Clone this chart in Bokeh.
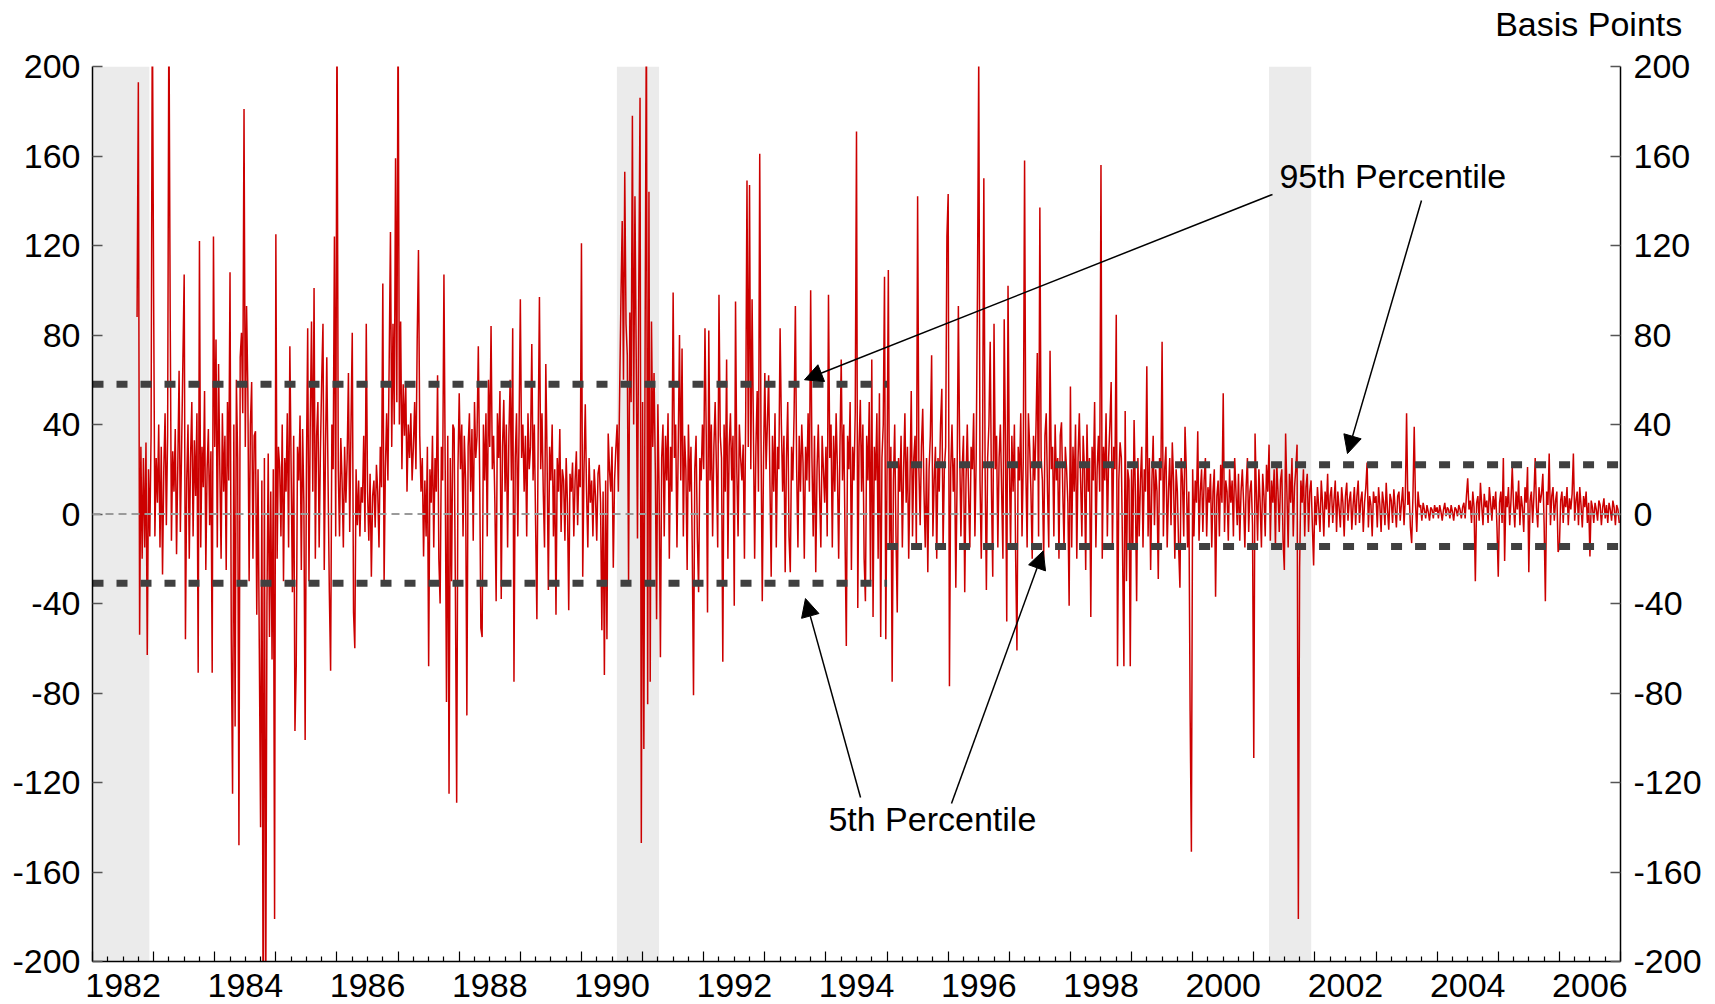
from bokeh.plotting import figure
from bokeh.models import (Range1d, LinearAxis, FixedTicker, BoxAnnotation, Span,
                          Label, Arrow, NormalHead)
from bokeh.embed import file_html
from bokeh.resources import INLINE

# ---------------- data (basis points, roughly weekly samples) -------------
v1982 = [88, 193, -54, 30, -20, 25, -15, 32, -63, 20, -10, 35, 230]
v1983 = [98, -10, 25, 5, 40, -15, 30, -27, 20, 45, -5, 35, 230, 91, -12, 28, 10, 38, -18, 22,
         64, -8, 30, 69, 107, -56, 15, 40, -20, 25, 50, -10, 33, 8, 45, -71, 122, -15, 30, 12,
         55, -25, 20, 38, -5, 28, -71, 124]
v1984 = [30, 78, -15, 67, 20, -20, 45, 10, 35, -25, 50, 15, 108, -56, -125, 40, -95, 60, 25, -148,
         70, 81, 45, 181, 30, 93, 55, -30, 40, 59, -20, 35, 37, -45, 20, -60, -140, 15, -230, 25,
         -230, -40, 27, -55, 10, -65, 20, -181]
v1985 = [125, -20, 30, 21, -10, 40, -30, 25, 10, 45, -15, 75, 20, -35, 35, -97, -68, 30, 15, 44,
         -25, 38, 5, -101, 20, 83, -30, 40, 86, 10, 101, -20, 35, 50, -15, 28, 60, 85, -25, 30,
         70, 15, -35, -70, 40, 20, 124, -10]
v1986 = [230, 20, -10, 34, 15, -15, 30, 5, 25, 63, -8, 40, 81, -44, -60, 20, -5, 15, -10, 12,
         5, 35, -8, 85, 10, -12, 18, -28, 8, 15, -6, 22, 10, -15, 30, 12, 103, -31, 20, 45,
         15, 68, 126, 30, 85, 40, 159, 50]
v1987 = [230, 40, 86, 20, 58, 35, 59, 10, 40, 25, 45, 15, 30, 50, 20, 78, 118, 35, 10, 25,
         -19, 15, -10, 30, -68, 20, 5, 35, -15, 25, 10, 62, -20, -40, 30, 15, 107, 20, -84, 35,
         -125, 25, -30, 40, 38, -35, -129, 20]
v1988 = [54, 20, 40, -10, 35, 15, -90, 30, 45, 10, 38, -12, 50, 25, 35, 75, 20, -51, -55, 40,
         15, 45, -10, 60, 30, 84, 20, 35, 5, -39, 45, 25, 55, -38, 30, 51, 10, 40, -15, 35,
         60, 15, 83, -75, 25, 45, -10, 38]
v1989 = [96, 25, 40, 10, 35, -10, 45, 20, 30, 76, 15, 40, -5, -47, 35, 97, 20, 45, 10, -15,
         67, 25, -34, 30, 15, 40, -10, 20, -45, 25, 10, 38, -8, 20, 15, -12, 25, 5, -43, 18,
         10, 23, -10, 15, 28, -5, 20, 12]
v1990 = [121, -28, 20, 49, 10, -15, 25, 5, 15, -10, 20, 8, -12, 18, 22, 5, -52, 10, -72, 15,
         -56, 36, 20, 10, 30, -24, 15, 29, 40, 10, 55, 96, 131, 60, 153, 85, 71, -30, 90, 50,
         178, 40, 142, 70, -11, 100, 186, -147]
v1991 = [50, -105, 80, 230, -85, 144, -75, 86, 30, 63, 20, -47, 49, 10, -64, 25, 40, -10, 35, 15,
         45, -20, 30, 10, 99, 25, 40, -15, 30, 80, 15, 74, -10, 35, 20, -25, 40, 10, 30, -15,
         -81, 20, 35, -10, -35, 25, 15, 40]
v1992 = [20, 83, 35, -44, 82, 15, 40, -10, 30, 50, 20, -15, 98, 35, 25, -66, 40, 10, 69, -20,
         30, 45, 15, 35, -41, 95, 20, -10, 40, 25, 15, 31, -20, 45, 149, 30, 147, 20, 96, 40,
         -20, 30, 55, 10, 161, 35, -39, 25]
v1993 = [63, 20, 40, 62, 15, -28, 35, 10, 45, -15, 30, 20, 83, 40, 10, 35, -26, 25, 50, -10,
         -26, 30, 15, 45, 93, 20, -15, 35, 10, 40, 23, -20, 30, 15, 45, 10, 100, 25, -10, 35,
         -26, 20, 40, 10, -15, 35, 20, 5]
v1994 = [30, -10, 98, 25, 40, -15, 35, 10, 45, 20, -20, 30, 69, 15, 40, -10, -59, 35, 20, 50,
         -25, 30, 15, 45, 171, -42, 30, 51, 10, 40, -20, -39, 35, 15, 50, -30, 69, -46, 30, 15,
         45, -20, 54, -55, 25, 40, 106, -56]
v1995 = [20, 109, -15, 30, -75, 15, 40, -10, -44, 25, 10, 35, -15, 20, 45, 5, 30, -20, 15, 55,
         -10, 25, 35, -15, 142, 20, -5, 30, 47, 10, -15, 25, -26, 20, 35, 71, -10, 15, 30, -20,
         25, 10, 40, 56, -15, 20, 30, 124]
v1996 = [143, -77, 20, 40, 10, 25, -33, 15, 93, 30, -10, 20, 35, -35, 15, 40, 10, -15, 30, 20,
         45, -10, 25, 100, 205, 15, -20, 30, 150, 20, -34, 25, 40, 77, 10, -28, 85, 20, 35, -15,
         25, 40, 10, -20, 87, 30, -48, 102]
v1997 = [25, -15, 35, 10, 40, -20, -61, 30, 15, 45, -10, 25, 158, 20, -15, 45, 30, 10, -20, 35,
         15, 40, 72, -10, 137, 25, 15, -20, 35, 45, 10, -15, 73, 20, 30, -10, 40, 15, 25, -20,
         35, 41, 10, -15, 30, 20, 5, -41]
v1998 = [57, -15, 30, 10, 40, -20, 25, 45, 15, -10, 35, 20, -25, 40, 10, 25, -46, 30, 15, 50,
         -15, 20, 35, 10, 156, -20, 30, 15, 45, -10, 25, 40, 59, -15, 30, 20, 89, -68, 15, 32,
         25, -20, -68, 46, -30, 20, 15, -68]
v1999 = [20, -15, 42, 10, -39, 25, -10, 15, 30, -15, 20, 10, 66, -10, 25, -25, 15, 35, -5, 20,
         10, -29, 25, 15, 77, -10, 20, 30, -15, 10, 25, -5, 32, 15, -20, 20, 10, -15, -33, 25,
         15, -10, 39, 20, -15, 10, -88, -151]
v2000 = [20, -10, 15, 5, 37, -12, 10, 20, -8, 15, 25, -10, 12, 5, 18, -15, 10, 20, -37, 8,
         15, -10, 22, 5, 54, -8, 15, 10, -12, 20, 5, 15, -10, 25, 10, -5, 18, -12, 10, 20,
         5, -15, 12, 25, -8, 10, 15, -5]
v2001 = [-109, 36, 10, -12, 20, 5, -15, 18, 8, -10, 22, 10, 31, -12, 15, 5, 20, -15, 23, 10,
         -8, 15, 20, -12, -25, 36, 10, -15, 18, 5, 25, -10, 12, 20, 31, -181, -24, 15, 5, 20,
         -10, 12, 18, -8, 10, 15, -5, -23]
v2002 = [8, -5, 12, 3, -8, 15, 5, -10, 10, 2, 18, -6, 8, 12, -4, 6, 15, -8, 10, 3,
         -6, 12, 5, -10, 8, 14, -3, 6, 10, -7, 4, 12, -5, 8, 15, -4, 6, 10, -8, 5,
         12, 23, -6, 8, 4, -10, 10, 5]
v2003 = [8, -6, 12, 4, -8, 10, 5, -5, 14, 2, -7, 9, 6, -4, 11, 3, -6, 8, 10, -3,
         5, 12, -5, 7, 45, 4, 10, -6, -13, 8, 39, 5, -8, 10, 3, 4, -3, 5, 2, -2,
         4, 1, -3, 3, 2, -2, 4, 1]
v2004 = [3, -2, 4, 1, -3, 2, 5, -1, 3, 2, -2, 4, 1, -3, 3, 2, -1, 4, 2, -2,
         3, 5, -2, 8, 16, 2, 6, -4, 10, 3, -30, 5, 8, -3, 14, 4, -5, 9, 3, 6,
         -4, 12, 5, -3, 8, 2, 10, -6]
v2005 = [-28, 5, 10, -4, 25, -21, 8, 3, 12, -5, 6, 21, 4, -6, 10, 2, 15, -5, 8, 3,
         -8, 12, 5, 21, -26, 6, 10, -4, 8, 25, 3, -6, 12, 5, 9, 18, -4, -39, 10, 4,
         27, -5, 8, 12, -3, 6, 10, -17]
v2006 = [-15, 6, 10, -4, 8, 3, 12, -5, 7, 2, 9, 27, -3, 6, 10, -5, 12, 4, -6, 8,
         3, 10, -4, 5, -19, 6, 3, -4, 5, 2, -3, 6, 4, -5, 3, 7, -2, 4, -4, 5,
         2, -3, 6, 3, -5, 4, 2, -4]

series_years = list(range(1982, 2007))
series_values = [v1982, v1983, v1984, v1985, v1986, v1987, v1988, v1989, v1990, v1991,
                 v1992, v1993, v1994, v1995, v1996, v1997, v1998, v1999, v2000, v2001,
                 v2002, v2003, v2004, v2005, v2006]
samples_per_year = 48

# percentile regimes
regime_bounds = [1982, 1995, 2007]
pct95 = [58, 22]
pct5 = [-31, -14.5]

# recessions (shaded)
rec_start = [1981.5, 1990.58, 2001.25]
rec_end = [1982.93, 1991.27, 2001.94]

y_ticks = [-200, -160, -120, -80, -40, 0, 40, 80, 120, 160, 200]
y_tick_labels = ["-200", "-160", "-120", "-80", "-40", "0", "40", "80", "120", "160", "200"]
x_label_years = [1982, 1984, 1986, 1988, 1990, 1992, 1994, 1996, 1998, 2000, 2002, 2004, 2006]
x_tick_labels = ["1982", "1984", "1986", "1988", "1990", "1992", "1994", "1996", "1998",
                 "2000", "2002", "2004", "2006"]
unit_text = "Basis Points"

# ---------------- build series ----------------
xs, ys = [], []
for yr, vals in zip(series_years, series_values):
    idx0 = samples_per_year - len(vals)
    for i, v in enumerate(vals):
        xs.append(yr + (idx0 + i) / samples_per_year)
        ys.append(v)

FONT = "Liberation Sans"
FS = "34px"

p = figure(width=1715, height=1004, x_range=Range1d(1982, 2007), y_range=Range1d(-200, 200),
           output_backend="svg", toolbar_location=None,
           x_axis_location=None, y_axis_location=None,
           min_border_left=92, min_border_right=95, min_border_top=66, min_border_bottom=43)
p.outline_line_color = None
p.grid.visible = False
p.background_fill_color = "white"
p.border_fill_color = "white"

# recession shading
for a, b in zip(rec_start, rec_end):
    p.add_layout(BoxAnnotation(left=a, right=b, fill_color="#ebebeb", fill_alpha=1.0,
                               line_color=None, level="underlay"))

# data line
p.line(xs, ys, line_color="#cc0000", line_width=1.5)

# zero line
p.add_layout(Span(location=0, dimension="width", line_color="#9a9a9a", line_width=2,
                  line_dash="8 5"))

# percentile lines
p.segment(x0=regime_bounds[:-1], x1=regime_bounds[1:], y0=pct95, y1=pct95,
          line_color="#404040", line_width=7, line_dash="11 13")
p.segment(x0=regime_bounds[:-1], x1=regime_bounds[1:], y0=pct5, y1=pct5,
          line_color="#404040", line_width=7, line_dash="11 13")

# axes
def style_y(ax, standoff):
    ax.major_tick_in = 10
    ax.major_tick_out = 0
    ax.minor_tick_in = 0
    ax.minor_tick_out = 0
    ax.axis_line_color = "black"
    ax.axis_line_width = 1.5
    ax.major_tick_line_color = "#555555"
    ax.major_tick_line_width = 1.5
    ax.major_label_text_font = FONT
    ax.major_label_text_font_size = FS
    ax.major_label_text_color = "black"
    ax.major_label_standoff = standoff
    ax.major_label_overrides = dict(zip(y_ticks, y_tick_labels))

yl = LinearAxis(ticker=FixedTicker(ticks=y_ticks))
style_y(yl, 12)
p.add_layout(yl, "left")
yr_ax = LinearAxis(ticker=FixedTicker(ticks=y_ticks))
style_y(yr_ax, 13)
p.add_layout(yr_ax, "right")

quarters = [yr + q / 4 for yr in range(1982, 2007) for q in range(1, 4)]
xt = LinearAxis(ticker=FixedTicker(ticks=list(range(1982, 2008)), minor_ticks=quarters))
xt.major_tick_in = 10
xt.major_tick_out = 0
xt.minor_tick_in = 5
xt.minor_tick_out = 0
xt.axis_line_color = "black"
xt.axis_line_width = 1.5
xt.major_tick_line_color = "black"
xt.major_tick_line_width = 1.2
xt.minor_tick_line_color = "black"
xt.minor_tick_line_width = 1.2
xt.major_label_text_font_size = "0px"
xt.major_label_standoff = 0
xt.major_label_overrides = {t: "" for t in range(1982, 2008)}
p.add_layout(xt, "below")

p.extra_x_ranges = {"lab": Range1d(1981.5, 2006.5)}
xl = LinearAxis(x_range_name="lab", ticker=FixedTicker(ticks=x_label_years))
xl.major_label_overrides = dict(zip(x_label_years, x_tick_labels))
xl.major_tick_in = 0
xl.major_tick_out = 0
xl.minor_tick_in = 0
xl.minor_tick_out = 0
xl.axis_line_color = None
xl.major_label_text_font = FONT
xl.major_label_text_font_size = FS
xl.major_label_text_color = "black"
xl.major_label_standoff = 12
p.add_layout(xl, "below")

# unit label above the plot, right side (an axis carrying a single tick label)
unit_pos = 2006.48
ua = LinearAxis(ticker=FixedTicker(ticks=[unit_pos]))
ua.major_label_overrides = {unit_pos: unit_text}
ua.major_tick_in = 0
ua.major_tick_out = 0
ua.minor_tick_in = 0
ua.minor_tick_out = 0
ua.axis_line_color = None
ua.major_label_text_font = FONT
ua.major_label_text_font_size = FS
ua.major_label_text_color = "black"
ua.major_label_standoff = 24
p.add_layout(ua, "above")

# annotations
p.add_layout(Label(x=2001.42, y=150.9, text="95th Percentile", text_font=FONT,
                   text_font_size=FS, text_color="black", text_align="left",
                   text_baseline="alphabetic"))
p.add_layout(Label(x=1994.04, y=-136.5, text="5th Percentile", text_font=FONT,
                   text_font_size=FS, text_color="black", text_align="left",
                   text_baseline="alphabetic"))

arrows = [
    (2001.306, 142.8, 1993.649, 60.0),
    (2003.744, 140.1, 2002.533, 27.0),
    (1994.566, -126.7, 1993.665, -37.8),
    (1996.054, -129.4, 1997.555, -16.5),
]
for x0, y0, x1, y1 in arrows:
    p.add_layout(Arrow(end=NormalHead(size=18, fill_color="black", line_color="black"),
                       x_start=x0, y_start=y0, x_end=x1, y_end=y1,
                       line_color="black", line_width=1.5))

open("out.html", "w").write(file_html(p, INLINE))
